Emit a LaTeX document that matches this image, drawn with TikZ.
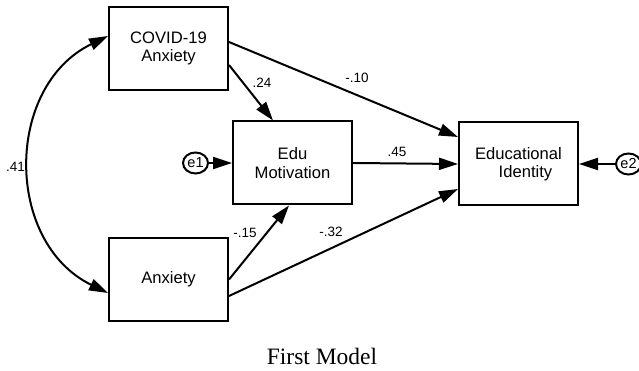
\documentclass[tikz,border=0pt]{standalone}
\usepackage{fontspec}
\setmainfont{Liberation Sans}
\newfontfamily\captionfont{Liberation Serif}
\usepackage{tikz}
\usetikzlibrary{arrows.meta}
\usetikzlibrary{positioning}
\usetikzlibrary{shapes}
\tikzstyle{var}=[draw,rectangle,minimum width=119pt,minimum height=83pt,inner sep=1pt,align=center,font=\fontsize{16.6}{18.5}\selectfont]

\begin{document}
\begin{tikzpicture}[x=1pt,y=1pt,line width=2pt,>={Triangle[length=19pt,width=12pt]}]
	\tikzstyle{err}=[draw,ellipse,minimum width=25pt,minimum height=21pt,inner sep=0pt,font=\fontsize{14.5}{15}\selectfont]
	\tikzstyle{coef}=[inner sep=1pt,font=\fontsize{13.5}{14}\selectfont]
	\useasboundingbox (0,0) rectangle (639,371);
	\node [var] (c) at (168.5,322.5) {COVID-19\\Anxiety};
	\node [var] (a) at (168.5,91.5) {Anxiety};
	\node [var] (m) at (292.5,208) {Edu\\Motivation};
	\node [var] (i) at (518.5,207) {Educational\\\hspace*{14pt}Identity};
	\node [err,left=23pt of m] (e1) {e1};
	\node [err,right=36pt of i] (e2) {e2};
	\draw [->] ([yshift=6.5pt]c.east) -- ([yshift=27pt]i.west);
	\draw [->] ([yshift=-16.5pt]c.east) -- ([xshift=-19.5pt]m.north);
	\draw [->] (m.east) -- (i.west);
	\draw [->] (a.east) -- ([xshift=-3.5pt]m.south);
	\draw [->] ([yshift=-16.5pt]a.east) -- ([yshift=-25pt]i.west);
	\draw [->] (e1) -- (m);
	\draw [->] (e2) -- (i);
	\draw [<->] ([yshift=12.5pt]c.west) to[bend right=64,looseness=1.15] ([yshift=-13.5pt]a.west);
	\node [coef] (l1) at (262,288) {.24};
	\node [coef] (l2) at (357,293) {-.10};
	\node [coef] (l3) at (397,219) {.45};
	\node [coef] (l4) at (245,138) {-.15};
	\node [coef] (l5) at (331,139) {-.32};
	\node [coef] (l6) at (15.5,204) {.41};
	\node [font=\captionfont\fontsize{23.5}{26}\selectfont] (t) at (322,14.5) {First Model};
\end{tikzpicture}
\end{document}
